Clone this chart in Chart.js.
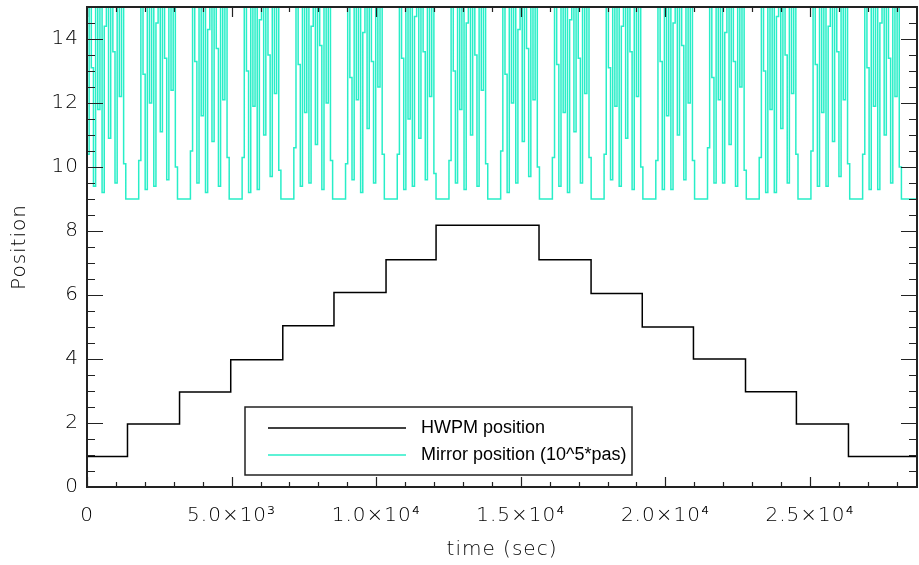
<!DOCTYPE html>
<html>
<head>
<meta charset="utf-8">
<script src="https://cdn.jsdelivr.net/npm/chart.js@4"></script>
<style>
  html, body { margin: 0; padding: 0; background: #fff; }
  #wrap { width: 919px; height: 565px; }
</style>
</head>
<body>
<div id="wrap"><canvas id="chart" width="919" height="565"></canvas></div>
<script>
// HWPM position (step function, value held until the next time)
const HWPM_TIME = [0, 1400, 3200, 4970, 6770, 8540, 10340, 12070, 15630, 17430, 19200, 20970, 22770, 24530, 26330, 28700];
const HWPM_POS  = [0.95, 1.97, 2.97, 3.98, 5.04, 6.08, 7.10, 8.18, 7.10, 6.05, 5.00, 4.00, 2.98, 1.97, 0.95, 0.95];

// Mirror position, one sample every MIRROR_DT seconds (one burst per row, then rest at 9)
const MIRROR_DT = 74.5;
const MIRROR_POS = [
  10.4,15.6,13.1,9.4,15.6,11.8,15.6,9.2,14.4,15.6,10.9,15.6,13.6,9.5,15.6,12.2,15.6,10.1, 9,9,9,9,9,9,
  10.2,15.6,12.9,9.3,15.6,12.0,15.6,9.4,14.5,15.6,11.1,15.6,13.4,9.6,15.6,12.4,15.6,10.0, 9,9,9,9,9,9,
  10.5,15.6,13.3,9.5,15.6,11.6,15.6,9.2,14.3,15.6,10.8,15.6,13.7,9.4,15.6,12.1,15.6,10.3, 9,9,9,9,9,9,
  10.3,15.6,13.0,9.2,15.6,11.9,15.6,9.3,14.6,15.6,11.0,15.6,13.5,9.7,15.6,12.3,15.6,9.9,  9,9,9,9,9,9,
  10.6,15.6,13.2,9.4,15.6,11.7,15.6,9.5,14.4,15.6,10.7,15.6,13.8,9.3,15.6,12.0,15.6,10.2, 9,9,9,9,9,9,
  10.1,15.6,12.8,9.6,15.6,12.1,15.6,9.2,14.2,15.6,11.2,15.6,13.3,9.5,15.6,12.5,15.6,10.4, 9,9,9,9,9,9,
  10.4,15.6,13.4,9.3,15.6,11.5,15.6,9.4,14.7,15.6,10.9,15.6,13.6,9.6,15.6,12.2,15.6,9.8,  9,9,9,9,9,9,
  10.2,15.6,13.0,9.5,15.6,11.8,15.6,9.3,14.5,15.6,11.0,15.6,13.5,9.4,15.6,12.4,15.6,10.1, 9,9,9,9,9,9,
  10.5,15.6,12.9,9.2,15.6,12.0,15.6,9.5,14.3,15.6,10.8,15.6,13.7,9.7,15.6,12.1,15.6,10.0, 9,9,9,9,9,9,
  10.3,15.6,13.2,9.4,15.6,11.7,15.6,9.2,14.6,15.6,11.1,15.6,13.4,9.5,15.6,12.3,15.6,10.3, 9,9,9,9,9,9,
  10.4,15.6,13.1,9.6,15.6,11.9,15.6,9.4,14.4,15.6,10.9,15.6,13.6,9.3,15.6,12.2,15.6,10.0, 9,9,9,9,9,9,
  10.2,15.6,13.3,9.3,15.6,11.6,15.6,9.3,14.5,15.6,11.0,15.6,13.8,9.6,15.6,12.0,15.6,10.2, 9,9,9,9,9,9,
  10.6,15.6,12.8,9.5,15.6,12.1,15.6,9.5,14.2,15.6,10.7,15.6,13.3,9.4,15.6,12.5,15.6,9.9,  9,9,9,9,9,9,
  10.3,15.6,13.0,9.2,15.6,11.8,15.6,9.2,14.7,15.6,11.2,15.6,13.5,9.5,15.6,12.3,15.6,10.4, 9,9,9,9,9,9,
  10.5,15.6,13.2,9.4,15.6,11.7,15.6,9.4,14.4,15.6,10.8,15.6,13.6,9.7,15.6,12.1,15.6,10.1, 9,9,9,9,9,9,
  10.4,15.6,13.1,9.3,15.6,11.9,15.6,9.3,14.5,15.6,11.0,15.6,13.4,9.5,15.6,12.2,15.6,10.0, 9,9,9,9,9,9,9,9
];

// Axis ticks
const X_MIN = 0, X_MAX = 28700;
const Y_MIN = 0, Y_MAX = 15;
const X_TICK_VALUES = [0, 5000, 10000, 15000, 20000, 25000];
const X_TICK_LABELS = ['0', '5.0\u00d710\u00b3', '1.0\u00d710\u2074', '1.5\u00d710\u2074', '2.0\u00d710\u2074', '2.5\u00d710\u2074'];
const Y_TICK_VALUES = [0, 2, 4, 6, 8, 10, 12, 14];
const X_MINOR = 1000, Y_MINOR = 0.5;

const INK = '#222';
const TEXT = '#000';
const CYAN = 'rgb(40, 238, 200)';
const FONT = { family: "'DejaVu Sans', sans-serif", size: 20, weight: 300 };

const hwpmPoints = HWPM_TIME.map((t, i) => ({ x: t, y: HWPM_POS[i] }));
const mirrorPoints = MIRROR_POS.map((v, i) => ({ x: i * MIRROR_DT, y: v }));

// wider letter spacing, closer to the IDL vector font
const spacing = {
  id: 'spacing',
  beforeDraw(chart) { chart.ctx.letterSpacing = '1px'; },
  afterDraw(chart) { chart.ctx.letterSpacing = '0px'; },
};

// box frame + inward ticks on all four sides (IDL style)
const frameTicks = {
  id: 'frameTicks',
  afterDatasetsDraw(chart) {
    const { ctx, chartArea: a, scales: { x, y } } = chart;
    ctx.save();
    ctx.strokeStyle = INK;
    ctx.lineWidth = 1.2;
    ctx.beginPath();
    const ny = Math.round((Y_MAX - Y_MIN) / Y_MINOR);
    for (let i = 0; i <= ny; i++) {
      const v = Y_MIN + i * Y_MINOR;
      const py = Math.round(y.getPixelForValue(v)) + 0.5;
      const len = (i % 4 === 0) ? 16 : 8;
      ctx.moveTo(a.left, py); ctx.lineTo(a.left + len, py);
      ctx.moveTo(a.right, py); ctx.lineTo(a.right - len, py);
    }
    const nx = Math.floor((X_MAX - X_MIN) / X_MINOR);
    for (let i = 0; i <= nx; i++) {
      const v = X_MIN + i * X_MINOR;
      const px = Math.round(x.getPixelForValue(v)) + 0.5;
      const len = (i % 5 === 0) ? 10 : 5;
      ctx.moveTo(px, a.bottom); ctx.lineTo(px, a.bottom - len);
      ctx.moveTo(px, a.top); ctx.lineTo(px, a.top + len);
    }
    ctx.stroke();
    ctx.lineWidth = 2;
    ctx.strokeRect(a.left, a.top, a.right - a.left, a.bottom - a.top);
    ctx.restore();
  }
};

// boxed legend inside the plot
const boxLegend = {
  id: 'boxLegend',
  afterDraw(chart) {
    const { ctx } = chart;
    const ds = chart.data.datasets;
    ctx.save();
    ctx.letterSpacing = '0px';
    ctx.fillStyle = '#fff';
    ctx.fillRect(245, 407, 387, 68);
    ctx.strokeStyle = INK;
    ctx.lineWidth = 1.5;
    ctx.strokeRect(245, 407, 387, 68);
    ctx.font = "18px 'Liberation Sans', sans-serif";
    ctx.textBaseline = 'middle';
    const rows = [428, 455];
    ds.forEach((d, i) => {
      ctx.strokeStyle = d.borderColor;
      ctx.lineWidth = 1.5;
      ctx.beginPath();
      ctx.moveTo(268, rows[i]);
      ctx.lineTo(406, rows[i]);
      ctx.stroke();
      ctx.fillStyle = TEXT;
      ctx.fillText(d.label, 421, rows[i]);
    });
    ctx.restore();
  }
};

new Chart(document.getElementById('chart'), {
  type: 'line',
  data: {
    datasets: [
      {
        label: 'HWPM position',
        data: hwpmPoints,
        borderColor: '#000',
        borderWidth: 1.5,
        stepped: 'before',
        pointRadius: 0,
        fill: false,
      },
      {
        label: 'Mirror position (10^5*pas)',
        data: mirrorPoints,
        borderColor: CYAN,
        borderWidth: 1.5,
        stepped: 'before',
        pointRadius: 0,
        fill: false,
      },
    ],
  },
  options: {
    responsive: false,
    animation: false,
    parsing: false,
    layout: { padding: { top: 7, right: 2, left: 0, bottom: 0 } },
    plugins: { legend: { display: false }, tooltip: { enabled: false } },
    scales: {
      x: {
        type: 'linear',
        min: X_MIN,
        max: X_MAX,
        afterBuildTicks: (s) => { s.ticks = X_TICK_VALUES.map(v => ({ value: v })); },
        afterFit: (s) => { s.height = 78; s.paddingLeft = 0; s.paddingRight = 0; },
        ticks: {
          autoSkip: false,
          maxRotation: 0,
          padding: 17,
          color: TEXT,
          font: FONT,
          callback: (v) => X_TICK_LABELS[X_TICK_VALUES.indexOf(v)] ?? '',
        },
        grid: { display: false, drawTicks: false },
        border: { display: false },
        title: { display: true, text: 'time (sec)', color: TEXT, font: FONT, padding: { top: 0, bottom: 3 } },
      },
      y: {
        type: 'linear',
        min: Y_MIN,
        max: Y_MAX,
        afterBuildTicks: (s) => { s.ticks = Y_TICK_VALUES.map(v => ({ value: v })); },
        afterFit: (s) => { s.width = 87; s.paddingTop = 0; s.paddingBottom = 0; },
        ticks: { padding: 8, color: TEXT, font: FONT, callback: (v) => String(v) },
        grid: { display: false, drawTicks: false },
        border: { display: false },
        title: { display: true, text: 'Position', color: TEXT, font: FONT, padding: { top: 8, bottom: 0 } },
      },
    },
  },
  plugins: [spacing, frameTicks, boxLegend],
});
</script>
</body>
</html>
